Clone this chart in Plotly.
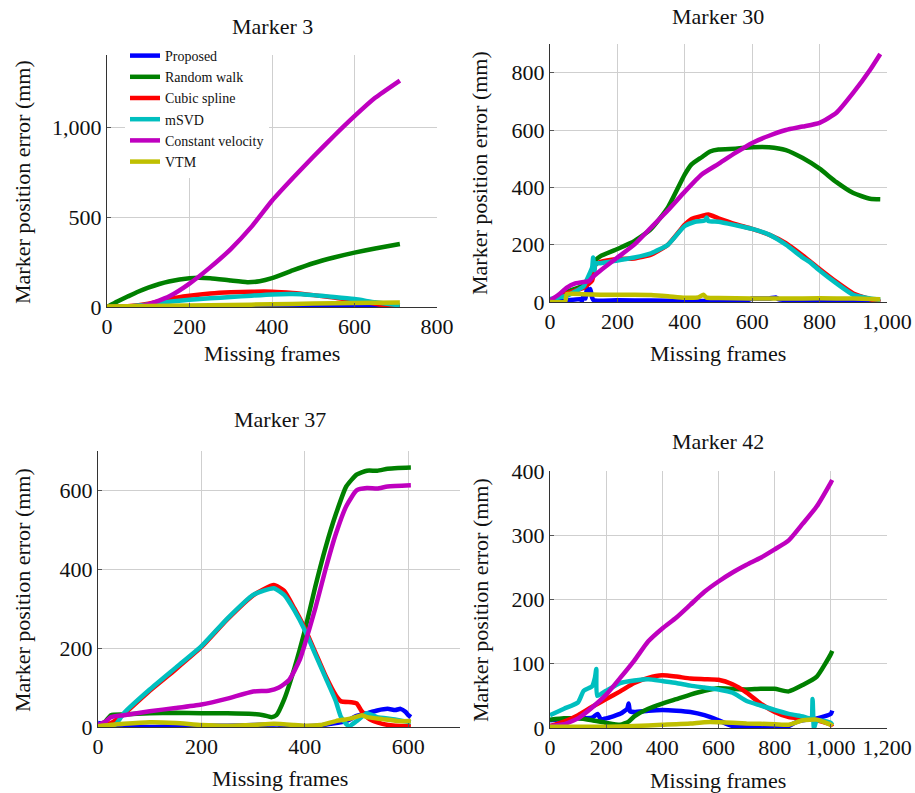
import plotly.graph_objects as go

W, H = 915, 793

METHODS = ["Proposed", "Random walk", "Cubic spline", "mSVD", "Constant velocity", "VTM"]
COLORS = ["#0000ff", "#008000", "#ff0000", "#00bfbf", "#bf00bf", "#bfbf00"]

# ---------------- Marker 3 ----------------
M3_PROPOSED = [(0, 0), (100, 0), (200, 1), (300, 1), (400, 2), (500, 4), (560, 6), (620, 5), (680, 1), (710, 0)]
M3_RANDOM = [(0, 0), (25, 30), (50, 58), (75, 85), (100, 108), (150, 142), (200, 160), (250, 160), (300, 147),
             (340, 138), (370, 143), (400, 160), (450, 203), (500, 243), (550, 275), (600, 302), (650, 325), (710, 350)]
M3_SPLINE = [(0, 0), (50, 4), (100, 18), (150, 44), (200, 62), (250, 75), (300, 82), (350, 85), (400, 85),
             (450, 78), (500, 66), (550, 52), (600, 38), (650, 18), (690, 3), (710, 0)]
M3_MSVD = [(0, 0), (50, 3), (100, 14), (150, 29), (200, 40), (250, 48), (300, 55), (350, 63), (400, 70),
           (450, 72), (500, 66), (520, 62), (550, 56), (600, 44), (650, 26), (700, 12), (710, 9)]
M3_CONSTVEL = [(0, 0), (50, 0), (80, 4), (100, 14), (150, 58), (200, 130), (250, 220), (300, 322), (350, 445),
               (400, 590), (450, 715), (500, 835), (550, 950), (600, 1060), (650, 1162), (710, 1258)]
M3_VTM = [(0, 3), (100, 5), (200, 8), (300, 11), (400, 15), (500, 19), (600, 22), (710, 25)]

# ---------------- Marker 30 ----------------
M30_PROPOSED = [(0, 0), (50, 5), (90, 10), (95, 3), (100, 25), (105, 12), (110, 50), (115, 30), (120, 45), (125, 15),
                (130, 6), (200, 6), (300, 5), (400, 3), (500, 4), (590, 8), (600, 12), (650, 12), (670, 16),
                (680, 9), (800, 5), (900, 4), (980, 3)]
M30_RANDOM = [(0, 0), (50, 35), (100, 58), (125, 85), (135, 145), (150, 160), (200, 185), (250, 212), (300, 255),
              (350, 330), (400, 445), (420, 480), (450, 505), (475, 525), (500, 532), (550, 535), (600, 540),
              (650, 540), (700, 530), (750, 502), (800, 465), (850, 418), (900, 380), (950, 360), (980, 358)]
M30_SPLINE = [(0, 0), (50, 30), (100, 50), (125, 75), (135, 130), (150, 140), (200, 150), (250, 152), (300, 165),
              (350, 200), (400, 270), (420, 290), (450, 300), (470, 305), (500, 292), (550, 272), (600, 255),
              (650, 235), (700, 205), (750, 162), (800, 115), (850, 70), (900, 30), (950, 10), (980, 0)]
M30_MSVD = [(0, 10), (50, 22), (100, 55), (110, 80), (125, 120), (128, 155), (132, 110), (135, 135), (150, 135),
            (200, 145), (250, 155), (300, 170), (350, 200), (400, 265), (430, 280), (460, 285), (465, 295),
            (470, 282), (500, 280), (550, 268), (600, 255), (650, 235), (700, 200), (750, 155), (770, 140),
            (800, 110), (850, 65), (900, 25), (950, 12), (980, 8)]
M30_CONSTVEL = [(0, 5), (25, 25), (50, 50), (75, 65), (100, 70), (115, 72), (125, 85), (150, 110), (200, 155),
                (250, 200), (300, 260), (350, 320), (400, 385), (450, 445), (500, 482), (550, 520), (600, 555),
                (650, 580), (700, 600), (750, 612), (800, 625), (850, 660), (900, 730), (950, 810), (980, 865)]
M30_VTM = [(0, 0), (45, 2), (50, 28), (100, 27), (150, 25), (200, 25), (250, 25), (300, 24), (350, 20),
           (400, 15), (440, 16), (455, 25), (465, 15), (500, 14), (600, 12), (700, 12), (800, 13), (900, 12), (980, 10)]

# ---------------- Marker 37 ----------------
M37_PROPOSED = [(0, 10), (25, 5), (50, 2), (100, 0), (150, 2), (200, 3), (250, 3), (300, 5), (350, 6), (400, 2),
                (430, 4), (450, 8), (480, 15), (500, 28), (520, 35), (540, 42), (560, 46), (575, 43), (585, 46),
                (595, 38), (600, 30), (605, 25)]
M37_RANDOM = [(0, 0), (15, 15), (25, 30), (50, 32), (100, 35), (150, 36), (200, 35), (250, 35), (300, 33),
              (320, 30), (335, 25), (345, 30), (360, 70), (380, 150), (400, 245), (420, 355), (440, 455),
              (460, 540), (480, 610), (500, 640), (520, 650), (540, 650), (560, 655), (580, 657), (605, 658)]
M37_SPLINE = [(0, 2), (25, 10), (50, 33), (100, 92), (150, 146), (200, 203), (250, 273), (300, 334), (340, 360),
              (360, 345), (380, 300), (400, 250), (420, 190), (440, 130), (460, 80), (470, 65), (490, 63),
              (500, 60), (510, 40), (525, 20), (550, 8), (575, 3), (605, 2)]
M37_MSVD = [(0, 5), (25, 2), (35, 8), (50, 35), (100, 95), (150, 150), (200, 205), (250, 275), (300, 335),
            (340, 352), (360, 335), (380, 295), (400, 245), (420, 185), (440, 125), (460, 65), (470, 25),
            (485, 2), (500, 15), (520, 35), (540, 25), (570, 20), (605, 12)]
M37_CONSTVEL = [(0, 5), (15, 14), (25, 25), (50, 30), (100, 40), (150, 48), (200, 57), (250, 72), (300, 90),
                (330, 92), (350, 100), (370, 120), (390, 170), (400, 210), (420, 300), (440, 400), (460, 490),
                (480, 560), (500, 600), (520, 606), (540, 605), (560, 610), (605, 613)]
M37_VTM = [(0, 2), (50, 8), (100, 12), (150, 10), (200, 5), (250, 3), (300, 5), (340, 8), (380, 5), (400, 3),
           (430, 5), (460, 15), (490, 22), (510, 30), (520, 25), (550, 20), (580, 15), (605, 15)]

# ---------------- Marker 42 ----------------
M42_PROPOSED = [(0, 12), (50, 14), (100, 15), (150, 16), (170, 22), (180, 14), (200, 15), (250, 22), (275, 30),
                (280, 38), (285, 26), (300, 25), (350, 27), (400, 28), (450, 27), (500, 25), (550, 20), (600, 12),
                (650, 3), (700, 1), (800, 1), (850, 3), (880, 10), (900, 12), (950, 15), (1000, 22), (1005, 27)]
M42_RANDOM = [(0, 13), (50, 15), (100, 15), (150, 12), (200, 8), (250, 5), (280, 10), (300, 18), (350, 30),
              (400, 38), (450, 45), (500, 52), (550, 58), (600, 62), (650, 61), (700, 60), (750, 61), (800, 61),
              (850, 57), (900, 67), (950, 80), (1000, 115), (1005, 120)]
M42_SPLINE = [(0, 3), (50, 10), (100, 20), (150, 33), (200, 45), (250, 57), (300, 70), (350, 78), (400, 82),
              (450, 80), (500, 77), (550, 76), (600, 75), (650, 68), (700, 55), (750, 38), (800, 25), (850, 17),
              (900, 15), (950, 12), (1000, 5), (1005, 2)]
M42_MSVD = [(0, 20), (50, 30), (100, 40), (120, 58), (150, 65), (160, 78), (165, 92), (168, 50), (200, 58),
            (250, 70), (300, 74), (350, 76), (400, 73), (450, 70), (500, 66), (550, 63), (600, 60), (650, 55),
            (700, 42), (750, 35), (800, 28), (850, 22), (900, 18), (930, 15), (935, 45), (940, 0), (950, 12),
            (1000, 8), (1005, 5)]
M42_CONSTVEL = [(0, 3), (50, 6), (100, 15), (150, 32), (200, 52), (250, 78), (300, 105), (350, 135), (400, 155),
                (450, 172), (500, 192), (550, 212), (600, 228), (650, 242), (700, 254), (750, 265), (800, 278),
                (850, 292), (900, 318), (950, 345), (1000, 382), (1005, 386)]
M42_VTM = [(0, 2), (200, 2), (300, 3), (400, 5), (500, 7), (550, 9), (600, 9), (700, 7), (800, 6), (850, 5),
           (900, 12), (950, 13), (1000, 5), (1005, 3)]

PANELS = [
    ("Marker 3", [M3_PROPOSED, M3_RANDOM, M3_SPLINE, M3_MSVD, M3_CONSTVEL, M3_VTM]),
    ("Marker 30", [M30_PROPOSED, M30_RANDOM, M30_SPLINE, M30_MSVD, M30_CONSTVEL, M30_VTM]),
    ("Marker 37", [M37_PROPOSED, M37_RANDOM, M37_SPLINE, M37_MSVD, M37_CONSTVEL, M37_VTM]),
    ("Marker 42", [M42_PROPOSED, M42_RANDOM, M42_SPLINE, M42_MSVD, M42_CONSTVEL, M42_VTM]),
]

# pixel boxes (left, right, top, bottom) for each panel
BOXES = [(107, 437, 55, 307), (550, 887, 44, 302), (98, 460, 451, 727), (550, 887, 471, 728)]
XRANGES = [[0, 800], [0, 1000], [0, 700], [0, 1200]]
YRANGES = [[0, 1400], [0, 900], [0, 700], [0, 400]]
XTICKS = [[0, 200, 400, 600, 800], [0, 200, 400, 600, 800, 1000], [0, 200, 400, 600], [0, 200, 400, 600, 800, 1000, 1200]]
YTICKS = [[0, 500, 1000], [0, 200, 400, 600, 800], [0, 200, 400, 600], [0, 100, 200, 300, 400]]
# title / xlabel / ylabel positions in pixels
TITLE_POS = [(272, 27), (718, 16), (280, 420), (718, 442)]
XLAB_POS = [(272, 354), (718, 354), (280, 778), (718, 780)]
YLAB_POS = [(22, 182), (480, 173), (22, 590), (480, 600)]

FONT = "'Liberation Serif', 'DejaVu Serif', 'Times New Roman', serif"

def px(x):
    return x / W

def py(y):
    return 1 - y / H

fig = go.Figure()
annotations = []
layout = {}
for i, (title, series) in enumerate(PANELS):
    n = "" if i == 0 else str(i + 1)
    for j, data in enumerate(series):
        fig.add_trace(go.Scatter(
            x=[p[0] for p in data], y=[p[1] for p in data],
            mode="lines", name=METHODS[j],
            line=dict(color=COLORS[j], width=4.5, shape="spline", smoothing=0.5),
            xaxis="x" + n, yaxis="y" + n,
            showlegend=(i == 0), hoverinfo="skip",
        ))
    l, r, t, b = BOXES[i]
    common = dict(showline=True, linecolor="#333333", linewidth=1, showgrid=True, gridcolor="#cfcfcf",
                  gridwidth=1, zeroline=False, ticks="inside", ticklen=4, tickcolor="#555555",
                  automargin=False,
                  tickfont=dict(family=FONT, size=22, color="#111111"), tickformat=",d")
    layout["xaxis" + n] = dict(domain=[px(l), px(r)], range=XRANGES[i], tickvals=XTICKS[i],
                               anchor="y" + n, **common)
    layout["yaxis" + n] = dict(domain=[py(b), py(t)], range=YRANGES[i], tickvals=YTICKS[i],
                               anchor="x" + n, **common)
    annotations.append(dict(text=title, x=px(TITLE_POS[i][0]), y=py(TITLE_POS[i][1]), xref="paper", yref="paper",
                            showarrow=False, xanchor="center", yanchor="middle",
                            font=dict(family=FONT, size=22, color="#111111")))
    annotations.append(dict(text="Missing frames", x=px(XLAB_POS[i][0]), y=py(XLAB_POS[i][1]), xref="paper",
                            yref="paper", showarrow=False, xanchor="center", yanchor="middle",
                            font=dict(family=FONT, size=22, color="#111111")))
    annotations.append(dict(text="Marker position error (mm)", x=px(YLAB_POS[i][0]), y=py(YLAB_POS[i][1]),
                            xref="paper", yref="paper", showarrow=False, xanchor="center", yanchor="middle",
                            textangle=-90, font=dict(family=FONT, size=22, color="#111111")))

fig.update_layout(
    width=W, height=H, margin=dict(l=0, r=0, t=0, b=0, autoexpand=False),
    paper_bgcolor="white", plot_bgcolor="white",
    font=dict(family=FONT),
    annotations=annotations,
    legend=dict(x=px(125), y=py(40), xanchor="left", yanchor="top", bgcolor="white", borderwidth=0,
                font=dict(family=FONT, size=14, color="#111111"), itemwidth=30, tracegroupgap=0),
    **layout,
)

fig.write_html("out.html", config={"displayModeBar": False},
               post_script="document.body.style.margin='0';document.body.style.padding='0';")
